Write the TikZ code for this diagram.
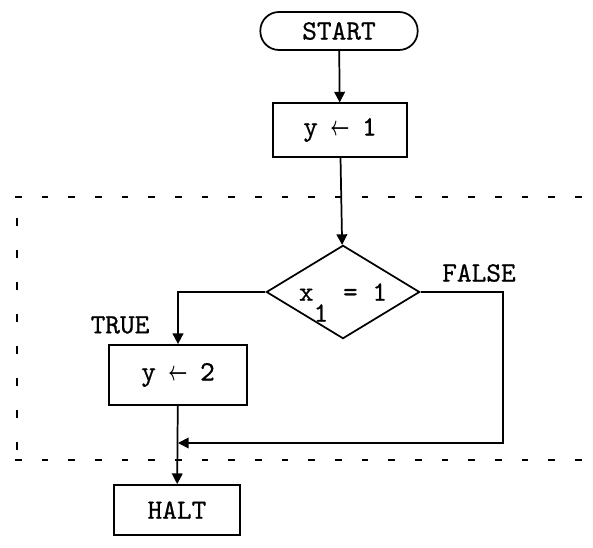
\documentclass[tikz,border=0pt]{standalone}
\usepackage{fontspec}
\setmonofont{lmmono10-regular.otf}[FakeBold=0.6]
\usepackage{tikz}
\usetikzlibrary{shapes.geometric,arrows.meta}
\newcommand{\assignarrow}{\makebox[0.525em]{\scalebox{0.6}[1]{\boldmath$\leftarrow$}}}

\begin{document}
\begin{tikzpicture}[x=0.75pt,y=-0.75pt,
    font=\ttfamily\fontsize{21}{24}\selectfont,
    line width=1.3pt,
    >={Triangle[length=8pt,width=8pt]},
    box/.style={draw,rectangle,inner sep=0pt},
    term/.style={draw,rectangle,rounded corners=14pt,minimum width=118pt,minimum height=28.5pt},
    test/.style={draw,diamond,aspect=1.6,inner sep=0pt,minimum width=115pt,minimum height=70pt},
    bound/.style={line width=1.5pt,dash pattern=on 5pt off 15pt}]
  \useasboundingbox (0,0) rectangle (593,548);
  \draw[bound] (15,197) -- (593,197);
  \draw[bound] (15,460) -- (593,460);
  \draw[bound,dash pattern=on 6pt off 18pt] (17,218) -- (17,455);
  \node[term] (start) at (339,31) {START};
  \node[box,minimum width=100pt,minimum height=40pt] (set1) at (340,130) {y \assignarrow{} 1};
  \node[test] (test) at (343,292) {x\raisebox{-0.75em}[0pt][0pt]{1} = 1};
  \node[box,minimum width=104pt,minimum height=45pt] (set2) at (178,375) {y \assignarrow{} 2};
  \node[box,minimum width=94pt,minimum height=37.5pt] (halt) at (177,510) {HALT};
  \node (truelab) at (120,325) {TRUE};
  \node (falselab) at (479,273) {FALSE};
  \coordinate (floop) at (503,443);
  \draw[->] (start) -- (set1);
  \draw[->] (set1) -- (test);
  \draw[->] (test.west) -| (set2.north);
  \draw[->] (set2) -- (halt);
  \draw[->] (test.east) -| (floop) -- (floop -| set2.south);
\end{tikzpicture}
\end{document}
